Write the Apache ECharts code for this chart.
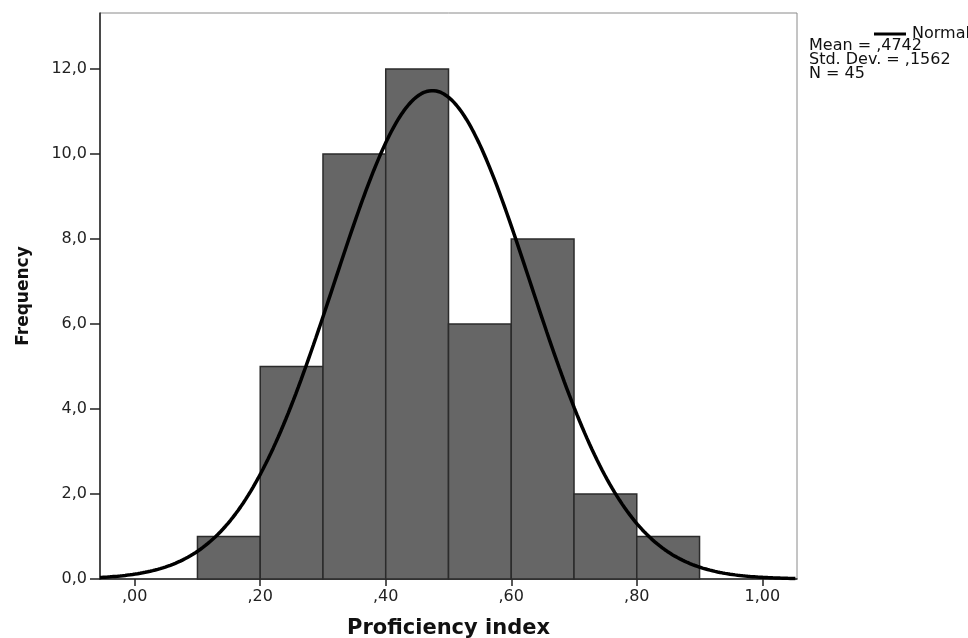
<!DOCTYPE html>
<html>
<head>
<meta charset="utf-8">
<title>Proficiency index histogram</title>
<script src="https://cdn.jsdelivr.net/npm/echarts@6.0.0/dist/echarts.min.js"></script>
<style>
  html, body { margin: 0; padding: 0; background: #fff; }
  #chart { width: 968px; height: 638px; }
</style>
</head>
<body>
<div id="chart"></div>
<script>
// histogram bins (Proficiency index) and their frequencies
const binStart = [0.1, 0.2, 0.3, 0.4, 0.5, 0.6, 0.7, 0.8]
const binEnd = [0.2, 0.3, 0.4, 0.5, 0.6, 0.7, 0.8, 0.9]
const counts = [1, 5, 10, 12, 6, 8, 2, 1]

// axis ticks
const xTicks = [0, 0.2, 0.4, 0.6, 0.8, 1.0]
const yTicks = [0, 2, 4, 6, 8, 10, 12]

// stats shown in the legend (the normal curve is drawn from these)
const mean = 0.4742
const stdDev = 0.1562
const n = 45
const binWidth = 0.1

const xMin = -0.0553
const xMax = 1.0553
const yMax = 13.32

const FONT = 'DejaVu Sans'

// comma decimal, no leading zero: ,20 / 1,00
const fmtX = (v) => {
  const s = v.toFixed(2).replace('.', ',')
  return s.startsWith('0,') ? s.slice(1) : s
}
const fmtY = (v) => v.toFixed(1).replace('.', ',')
const fmtStat = (v) => v.toFixed(4).replace('0.', ',')

// fitted normal curve, scaled to counts
const curve = []
for (let x = xMin; x <= xMax + 1e-9; x += 0.004) {
  const z = (x - mean) / stdDev
  const y = (n * binWidth) * Math.exp(-0.5 * z * z) / (stdDev * Math.sqrt(2 * Math.PI))
  curve.push([x, y])
}

const chart = echarts.init(document.getElementById('chart'))

chart.setOption({
  animation: false,
  textStyle: { fontFamily: FONT },
  grid: {
    left: 100, top: 13, right: 171, bottom: 59,
    show: true, borderColor: '#8a8a8a', borderWidth: 1,
    outerBoundsMode: 'none',
  },
  legend: {
    data: ['Normal'],
    left: 874,
    top: 26,
    icon: 'rect',
    itemWidth: 32,
    itemHeight: 3,
    padding: 0,
    textStyle: { fontFamily: FONT, fontSize: 16, color: '#111', padding: [0, 0, 0, 1] },
  },
  graphic: [
    {
      type: 'text',
      left: 809,
      top: 38,
      style: {
        text: `Mean = ${fmtStat(mean)}\nStd. Dev. = ${fmtStat(stdDev)}\nN = ${n}`,
        font: `16px "${FONT}"`,
        lineHeight: 13.7,
        fill: '#111',
      },
    },
  ],
  xAxis: {
    type: 'value',
    min: xMin,
    max: xMax,
    name: 'Proficiency index',
    nameLocation: 'middle',
    nameGap: 39,
    nameTextStyle: { fontFamily: FONT, fontSize: 21, fontWeight: 'bold', color: '#111' },
    axisLine: { onZero: false, lineStyle: { color: '#222', width: 1.5 } },
    axisTick: { show: true, length: 7, lineStyle: { color: '#222', width: 1.5 }, customValues: xTicks },
    axisLabel: { customValues: xTicks, formatter: fmtX, fontSize: 16, color: '#222', margin: 10 },
    splitLine: { show: false },
  },
  yAxis: {
    type: 'value',
    min: 0,
    max: yMax,
    name: 'Frequency',
    nameLocation: 'middle',
    nameGap: 68,
    nameTextStyle: { fontFamily: FONT, fontSize: 17, fontWeight: 'bold', color: '#111' },
    axisLine: { show: true, onZero: false, lineStyle: { color: '#222', width: 1.5 } },
    axisTick: { show: true, length: 10, lineStyle: { color: '#222', width: 1.5 }, customValues: yTicks },
    axisLabel: { customValues: yTicks, formatter: fmtY, fontSize: 16, color: '#222', margin: 13 },
    splitLine: { show: false },
  },
  series: [
    {
      name: 'Histogram',
      type: 'custom',
      data: binStart.map((s, i) => [s, binEnd[i], counts[i]]),
      encode: { x: [0, 1], y: 2 },
      renderItem: (params, api) => {
        const p0 = api.coord([api.value(0), 0])
        const p1 = api.coord([api.value(1), api.value(2)])
        return {
          type: 'rect',
          shape: { x: p0[0], y: p1[1], width: p1[0] - p0[0], height: p0[1] - p1[1] },
          style: { fill: '#666666', stroke: '#2b2b2b', lineWidth: 1.5 },
        }
      },
      z: 2,
    },
    {
      name: 'Normal',
      type: 'line',
      data: curve,
      showSymbol: false,
      symbol: 'none',
      smooth: false,
      clip: true,
      lineStyle: { color: '#000', width: 3.5 },
      itemStyle: { color: '#000' },
      z: 3,
    },
  ],
})
</script>
</body>
</html>
